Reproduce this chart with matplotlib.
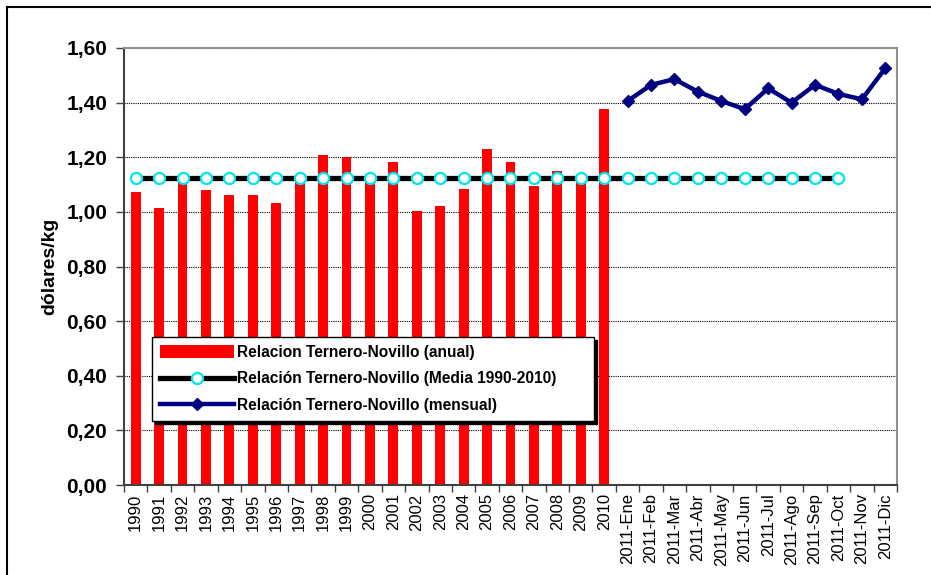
import numpy as np
import matplotlib.pyplot as plt
from matplotlib.lines import Line2D

# Datos
years = [str(y) for y in range(1990, 2011)]
months = ["2011-Ene", "2011-Feb", "2011-Mar", "2011-Abr", "2011-May", "2011-Jun",
          "2011-Jul", "2011-Ago", "2011-Sep", "2011-Oct", "2011-Nov", "2011-Dic"]
categories = years + months

anual = [1.072, 1.013, 1.115, 1.080, 1.061, 1.061, 1.033, 1.110, 1.208, 1.202, 1.110,
         1.183, 1.003, 1.022, 1.084, 1.229, 1.182, 1.094, 1.151, 1.110, 1.378]
media_value = 1.123
media_count = 31  # de 1990 hasta 2011-Oct
mensual = [1.406, 1.465, 1.486, 1.440, 1.406, 1.376, 1.452, 1.400, 1.465, 1.432, 1.412, 1.526]

regular = ["Liberation Sans", "DejaVu Sans"]

fig = plt.figure(figsize=(9.31, 5.75), dpi=100)
ax = fig.add_axes([124 / 931, 1 - 485 / 575, 773 / 931, 437 / 575])

x = np.arange(len(categories))
h_bar = ax.bar(x[:len(anual)], anual, width=0.42, color="#ff0000", zorder=2,
               label="Relacion Ternero-Novillo (anual)")
h_media, = ax.plot(x[:media_count], [media_value] * media_count, color="black", lw=3.8,
                   marker="o", markersize=8, markerfacecolor="white",
                   markeredgecolor="#00e5ee", markeredgewidth=1.6, zorder=3,
                   label="Relación Ternero-Novillo (Media 1990-2010)")
h_mens, = ax.plot(x[len(anual):], mensual, color="#000080", lw=3.2, marker="D",
                  markersize=6, zorder=4, label="Relación Ternero-Novillo (mensual)")

ax.set_xlim(-0.5, len(categories) - 0.5)
ax.set_ylim(0, 1.6)
ax.set_yticks(np.arange(0, 1.61, 0.2))
ax.set_yticklabels([f"{v:.2f}".replace(".", ",") for v in np.arange(0, 1.61, 0.2)],
                   fontsize=15, fontweight="bold", family=regular)
ax.set_xticks(x)
ax.set_xticklabels(categories, rotation=90, fontsize=12, family=regular)
ax.set_xticks(np.arange(-0.5, len(categories)), minor=True)
ax.tick_params(axis="x", which="major", length=0, pad=6)
ax.tick_params(axis="x", which="minor", length=5, width=1, color="#404040")
ax.tick_params(axis="y", length=6, width=1, color="#404040", pad=6)

ax.set_ylabel("dólares/kg", fontsize=14, fontweight="bold", family=regular, labelpad=6)

ax.yaxis.grid(True, linestyle=(0, (1, 1)), color="black", lw=0.8, zorder=1)
ax.set_axisbelow(True)
for side in ["top", "right"]:
    ax.spines[side].set_color("#909090")
    ax.spines[side].set_linewidth(1.5)
for side in ["left", "bottom"]:
    ax.spines[side].set_color("#404040")
    ax.spines[side].set_linewidth(1.5)

leg = ax.legend([h_bar, h_media, h_mens],
                [h_bar.get_label(), h_media.get_label(), h_mens.get_label()],
                loc="upper left", bbox_to_anchor=(28 / 773, 148 / 437, 442 / 773, 0.0),
                mode="expand", borderaxespad=0, fancybox=False, framealpha=1,
                edgecolor="black", shadow={"color": "black", "alpha": 1},
                handlelength=4.8, handleheight=0.9, borderpad=0.5, labelspacing=0.75,
                handletextpad=0.15,
                prop={"family": regular, "weight": "bold", "size": 11.2})
leg.get_frame().set_linewidth(1)

# borde de la figura
fig.add_artist(Line2D([7 / 931, 7 / 931], [0, 1 - 7 / 575], color="black", lw=1.5))
fig.add_artist(Line2D([7 / 931, 1], [1 - 7 / 575, 1 - 7 / 575], color="black", lw=1.5))

fig.savefig("out.png", dpi=100)
